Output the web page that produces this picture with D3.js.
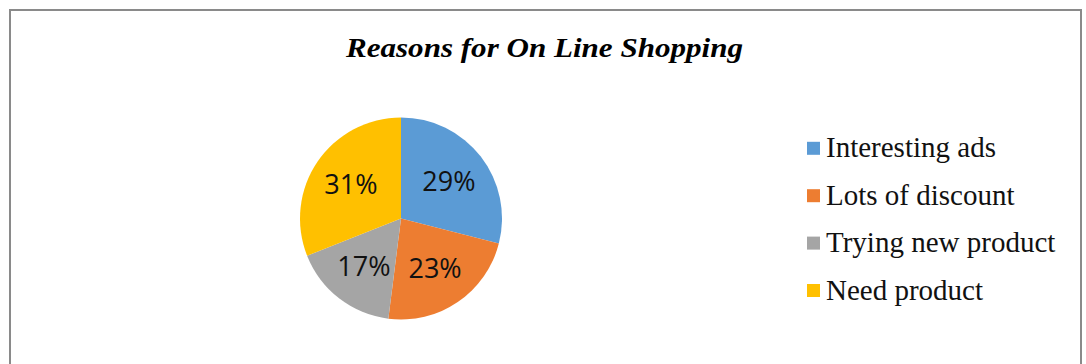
<!DOCTYPE html>
<html>
<head>
<meta charset="utf-8">
<script src="https://cdn.jsdelivr.net/npm/d3@7"></script>
<style>
  body { margin: 0; background: #fff; }
  svg { display: block; }
</style>
</head>
<body>
<div id="chart"></div>
<script>
const categories = ["Interesting ads", "Lots of discount", "Trying new product", "Need product"];
const shares = [29, 23, 17, 31];
const colours = ["#5B9BD5", "#ED7D31", "#A5A5A5", "#FFC000"];
const title = "Reasons for On Line Shopping";

const width = 1086, height = 364;
const cx = 401, cy = 218.5, radius = 101;

const svg = d3.select("#chart").append("svg")
    .attr("width", width)
    .attr("height", height);

// chart frame (bottom edge runs off the picture)
svg.append("path")
    .attr("d", `M10,${height + 5} V10 H1081 V${height + 5}`)
    .attr("fill", "none")
    .attr("stroke", "#8a8a8a")
    .attr("stroke-width", 2);

svg.append("text")
    .attr("x", 544.5)
    .attr("y", 57)
    .attr("text-anchor", "middle")
    .attr("textLength", 397)
    .attr("lengthAdjust", "spacingAndGlyphs")
    .style("font-family", "'Liberation Serif', 'Times New Roman', serif")
    .style("font-weight", "bold")
    .style("font-style", "italic")
    .style("font-size", "28px")
    .text(title);

const pie = d3.pie().sort(null).value(d => d);
const arcs = pie(shares);
const arc = d3.arc().innerRadius(0).outerRadius(radius);
const labelArc = d3.arc().innerRadius(radius * 0.6).outerRadius(radius * 0.6);

const g = svg.append("g").attr("transform", `translate(${cx},${cy})`);

g.selectAll("path.slice")
    .data(arcs)
    .enter().append("path")
        .attr("class", "slice")
        .attr("d", arc)
        .attr("fill", (d, i) => colours[i]);

g.selectAll("text.pct")
    .data(arcs)
    .enter().append("text")
        .attr("class", "pct")
        .attr("transform", d => `translate(${labelArc.centroid(d)})`)
        .attr("text-anchor", "middle")
        .attr("dy", "0.36em")
        .style("font-family", "'Open Sans', 'Noto Sans', sans-serif")
        .style("font-size", "27px")
        .style("fill", "#111")
        .text(d => `${d.data}%`);

const legendY = d3.scalePoint()
    .domain(categories)
    .range([148.3, 290.5]);

const item = svg.selectAll("g.legend")
    .data(categories)
    .enter().append("g")
        .attr("class", "legend")
        .attr("transform", d => `translate(807,${legendY(d)})`);

item.append("rect")
    .attr("x", 0)
    .attr("y", -6.5)
    .attr("width", 13)
    .attr("height", 13)
    .attr("fill", (d, i) => colours[i]);

item.append("text")
    .attr("x", 19)
    .attr("y", 9)
    .style("font-family", "'Liberation Serif', 'Times New Roman', serif")
    .style("font-size", "29px")
    .style("fill", "#111")
    .text(d => d);
</script>
</body>
</html>
